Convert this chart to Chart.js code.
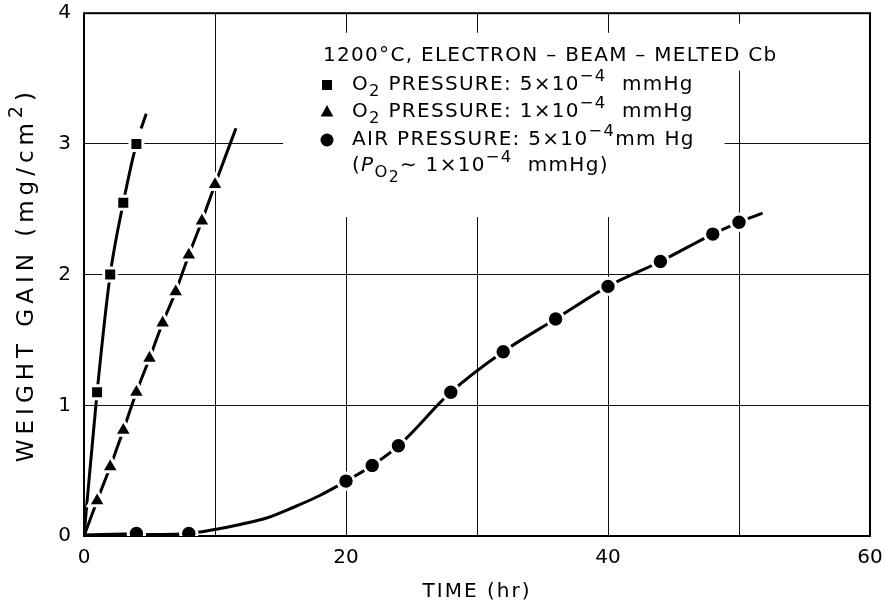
<!DOCTYPE html>
<html lang="en">
<head>
  <meta charset="utf-8">
  <title>Oxidation of Cb at 1200°C</title>
  <script src="https://cdn.jsdelivr.net/npm/chart.js@4.4.1/dist/chart.umd.min.js"></script>
  <style>
    html, body { margin: 0; padding: 0; background: #fff; }
    #wrap { width: 885px; height: 606px; }
  </style>
</head>
<body>
  <div id="wrap"><canvas id="gainChart" width="885" height="606"></canvas></div>
  <script>
    // Measured points, time in hr, weight gain in mg/cm2
    const o2HighTime = [1, 2, 3, 4];
    const o2HighGain = [1.1, 2.0, 2.55, 3.0];
    const o2LowTime = [1, 2, 3, 4, 5, 6, 7, 8, 9, 10];
    const o2LowGain = [0.27, 0.53, 0.81, 1.1, 1.36, 1.63, 1.87, 2.15, 2.41, 2.69];
    const airTime = [4, 8, 20, 22, 24, 28, 32, 36, 40, 44, 48, 50];
    const airGain = [0.02, 0.02, 0.42, 0.54, 0.69, 1.1, 1.41, 1.66, 1.91, 2.1, 2.31, 2.4];

    // Faired curves drawn through the points
    const o2HighFitTime = [0, 1, 2, 3, 4, 4.75];
    const o2HighFitGain = [0, 1.1, 2.0, 2.55, 3.0, 3.23];
    const o2LowFitTime = [0, 1, 2, 3, 4, 5, 6, 7, 8, 9, 10, 11.6];
    const o2LowFitGain = [0, 0.27, 0.53, 0.81, 1.1, 1.36, 1.63, 1.87, 2.15, 2.41, 2.69, 3.12];
    const airFitTime = [0, 4, 8, 10, 12, 14, 16, 18, 20, 22, 24, 28, 32, 36, 40, 44, 48, 50, 51.8];
    const airFitGain = [0, 0.01, 0.02, 0.05, 0.09, 0.14, 0.22, 0.31, 0.42, 0.54, 0.69, 1.1, 1.41, 1.66, 1.91, 2.1, 2.31, 2.4, 2.47];

    const xTickLabels = [0, 20, 40, 60];
    const yTickLabels = [0, 1, 2, 3, 4];

    const FONT = '"DejaVu Sans", sans-serif';
    const toXY = (xs, ys) => xs.map((v, i) => ({ x: v, y: ys[i] }));

    function runFont(r, size) {
      let s = size, dy = 0;
      if (r.sub) { s = size * 0.82; dy = size * 0.36; }
      if (r.sub2) { s = size * 0.78; dy = size * 0.62; }
      if (r.sup) { s = size * 0.82; dy = -size * 0.42; }
      return { font: (r.italic ? 'italic ' : '') + s + 'px ' + FONT, dy };
    }

    // text runs with sub/superscripts
    function drawRuns(ctx, x, y, runs, size) {
      for (const r of runs) {
        const f = runFont(r, size);
        ctx.font = f.font;
        ctx.fillText(r.t, x, y + f.dy);
        x += ctx.measureText(r.t).width;
      }
    }

    function runsWidth(ctx, runs, size) {
      return runs.reduce((w, r) => {
        ctx.font = runFont(r, size).font;
        return w + ctx.measureText(r.t).width;
      }, 0);
    }

    const legendRows = [
      { mark: null, x: 323, y: 56, runs: [{ t: '1200°C, ELECTRON – BEAM – MELTED Cb' }] },
      { mark: 'rect', x: 352, y: 85, runs: [{ t: 'O' }, { t: '2', sub: true }, { t: ' PRESSURE: 5×10' }, { t: '−4', sup: true }, { t: '  mmHg' }] },
      { mark: 'triangle', x: 352, y: 112, runs: [{ t: 'O' }, { t: '2', sub: true }, { t: ' PRESSURE: 1×10' }, { t: '−4', sup: true }, { t: '  mmHg' }] },
      { mark: 'circle', x: 352, y: 140, runs: [{ t: 'AIR PRESSURE: 5×10' }, { t: '−4', sup: true }, { t: 'mm Hg' }] },
      { mark: null, x: 352, y: 166, runs: [{ t: '(' }, { t: 'P', italic: true }, { t: 'O', sub: true }, { t: '2', sub2: true }, { t: '∼ 1×10' }, { t: '−4', sup: true }, { t: '  mmHg)' }] }
    ];
    const yTitleRuns = [{ t: 'WEIGHT GAIN (mg/cm' }, { t: '2', sup: true }, { t: ')' }];

    const paperPlugin = {
      id: 'paper',
      beforeDatasetsDraw(chart) {
        const { ctx, chartArea: a, scales: { x, y } } = chart;
        ctx.save();
        // white out grid behind the key
        ctx.fillStyle = '#fff';
        const box = (x0, x1, y0, y1) => {
          const px0 = x.getPixelForValue(x0), px1 = x.getPixelForValue(x1);
          const py0 = y.getPixelForValue(y0), py1 = y.getPixelForValue(y1);
          ctx.fillRect(px0, py0, px1 - px0, py1 - py0);
        };
        box(15.2, 48.9, 3.85, 2.44);
        box(48.9, 53.5, 3.92, 3.56);
        // heavy frame
        ctx.strokeStyle = '#000';
        ctx.lineWidth = 2;
        ctx.strokeRect(a.left, a.top, a.right - a.left, a.bottom - a.top);
        ctx.restore();
      },
      afterDraw(chart) {
        const { ctx, chartArea: a } = chart;
        ctx.save();
        ctx.fillStyle = '#000';
        ctx.textBaseline = 'middle';
        ctx.textAlign = 'left';
        ctx.letterSpacing = '1.3px';
        legendRows.forEach(row => {
          const mx = 327;
          if (row.mark === 'rect') ctx.fillRect(mx - 5, row.y - 5, 10, 10);
          if (row.mark === 'triangle') {
            ctx.beginPath();
            ctx.moveTo(mx, row.y - 7);
            ctx.lineTo(mx + 6.3, row.y + 4.5);
            ctx.lineTo(mx - 6.3, row.y + 4.5);
            ctx.closePath();
            ctx.fill();
          }
          if (row.mark === 'circle') {
            ctx.beginPath();
            ctx.arc(mx, row.y, 6.5, 0, Math.PI * 2);
            ctx.fill();
          }
          drawRuns(ctx, row.x, row.y, row.runs, 20);
        });

        // axis titles
        ctx.font = '20px ' + FONT;
        ctx.textAlign = 'center';
        ctx.letterSpacing = '2px';
        ctx.fillText('TIME (hr)', (a.left + a.right) / 2, 592);

        ctx.textAlign = 'left';
        ctx.letterSpacing = '5px';
        const tw = runsWidth(ctx, yTitleRuns, 23);
        ctx.translate(27, (a.top + a.bottom) / 2);
        ctx.rotate(-Math.PI / 2);
        drawRuns(ctx, -tw / 2, 0, yTitleRuns, 23);
        ctx.restore();
      }
    };

    const lineStyle = {
      type: 'line',
      showLine: true,
      borderColor: '#000',
      borderWidth: 3,
      pointRadius: 0,
      fill: false,
      cubicInterpolationMode: 'monotone',
      order: 2
    };
    // markers carry a white ring so the curves stop short of them
    const markStyle = {
      type: 'line',
      showLine: false,
      backgroundColor: '#000',
      borderColor: '#fff',
      borderWidth: 3,
      order: 0
    };

    new Chart(document.getElementById('gainChart'), {
      type: 'line',
      data: {
        datasets: [
          { ...markStyle, data: toXY(o2HighTime, o2HighGain), pointStyle: 'rect', pointRadius: 9.2 },
          { ...markStyle, data: toXY(o2LowTime, o2LowGain), pointStyle: 'triangle', pointRadius: 10.2 },
          { ...markStyle, data: toXY(airTime, airGain), pointStyle: 'circle', pointRadius: 8.2 },
          {
            ...lineStyle, data: toXY(o2HighFitTime, o2HighFitGain),
            segment: { borderDash: c => c.p0.parsed.x >= 4 ? [8, 8, 16] : undefined }
          },
          { ...lineStyle, data: toXY(o2LowFitTime, o2LowFitGain) },
          {
            ...lineStyle, data: toXY(airFitTime, airFitGain),
            segment: { borderWidth: c => c.p1.parsed.x <= 4 ? 5 : 3 }
          }
        ]
      },
      options: {
        responsive: false,
        animation: false,
        devicePixelRatio: 1,
        layout: { padding: { top: 12, right: 15, left: 0, bottom: 0 } },
        plugins: { legend: { display: false }, tooltip: { enabled: false } },
        scales: {
          x: {
            type: 'linear', min: 0, max: 60,
            afterFit: s => { s.height = 70; s.paddingLeft = 0; s.paddingRight = 0; },
            border: { display: false },
            grid: { color: '#111', lineWidth: 1, drawTicks: false },
            ticks: {
              stepSize: 10, padding: 10, color: '#000',
              font: { family: FONT, size: 20 },
              callback: v => xTickLabels.includes(v) ? String(v) : ''
            }
          },
          y: {
            min: 0, max: 4,
            afterFit: s => { s.width = 84; s.paddingTop = 0; s.paddingBottom = 0; },
            border: { display: false },
            grid: { color: '#111', lineWidth: 1, drawTicks: false },
            ticks: {
              stepSize: 1, padding: 13, color: '#000',
              font: { family: FONT, size: 20 },
              callback: v => yTickLabels.includes(v) ? String(v) : ''
            }
          }
        }
      },
      plugins: [paperPlugin]
    });
  </script>
</body>
</html>
